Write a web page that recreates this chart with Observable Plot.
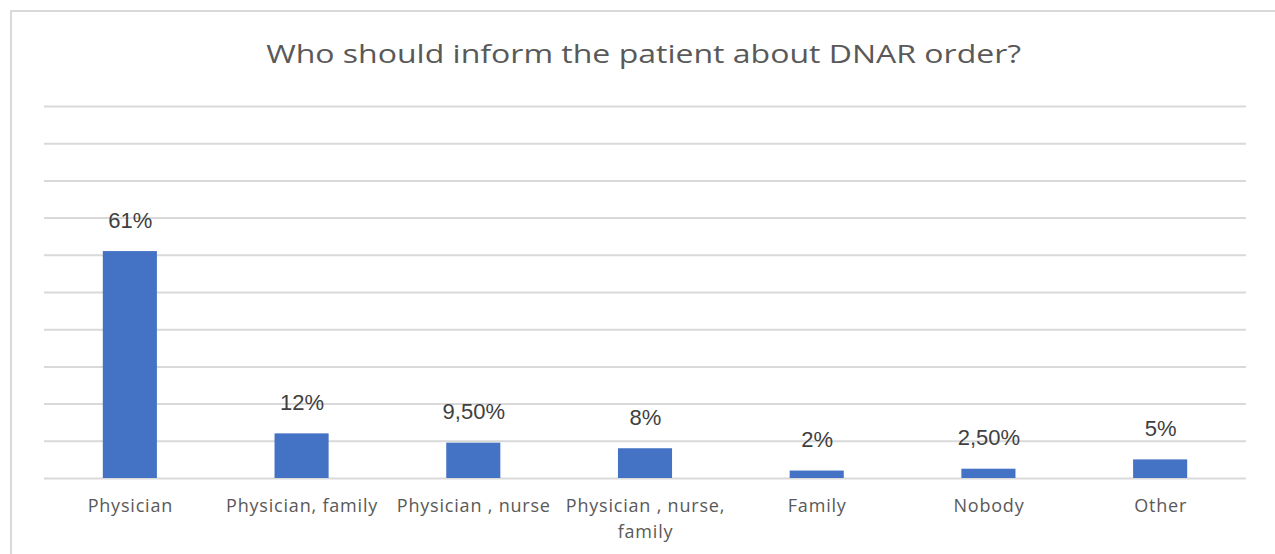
<!DOCTYPE html>
<html>
<head>
<meta charset="utf-8">
<script src="https://cdn.jsdelivr.net/npm/d3@7"></script>
<script src="https://cdn.jsdelivr.net/npm/@observablehq/plot@0.6"></script>
<style>
  html, body { margin: 0; padding: 0; background: #fff; width: 1275px; height: 554px; overflow: hidden; }
  #frame { position: absolute; left: 10px; top: 10px; width: 1280px; height: 560px; border-left: 2px solid #d9d9d9; border-top: 2px solid #d9d9d9; box-sizing: border-box; }
  #title { position: absolute; left: 0; top: 0; width: 1287px; height: 90px; text-align: center; font-family: "Open Sans", sans-serif; font-size: 25px; color: #595959; line-height: 106px; transform: scaleX(1.28); transform-origin: 643px 0; }
  #chart { position: absolute; left: 0; top: 90px; }
</style>
</head>
<body>
<div id="frame"></div>
<div id="title">Who should inform the patient about DNAR order?</div>
<div id="chart"></div>
<script>
const categories = ["Physician", "Physician, family", "Physician , nurse", "Physician , nurse,\nfamily", "Family", "Nobody", "Other"];
const values = [61, 12, 9.5, 8, 2, 2.5, 5];
const valueLabels = ["61%", "12%", "9,50%", "8%", "2%", "2,50%", "5%"];
const yTicks = [0, 10, 20, 30, 40, 50, 60, 70, 80, 90, 100];

const data = categories.map((c, i) => ({cat: c, value: values[i], label: valueLabels[i]}));

const chart = Plot.plot({
  width: 1275,
  height: 464,
  marginTop: 16,
  marginBottom: 76,
  marginLeft: 44,
  marginRight: 29,
  style: {background: "transparent", overflow: "visible"},
  x: {domain: categories, paddingInner: 0.685, paddingOuter: 0.3425, round: false, label: null, axis: null},
  y: {domain: [0, 100], label: null, axis: null},
  marks: [
    Plot.ruleY(yTicks, {stroke: "#d9d9d9", strokeWidth: 2}),
    Plot.barY(data, {x: "cat", y: "value", fill: "#4472c4"}),
    Plot.text(data, {x: "cat", y: "value", text: "label", dy: -31, fontSize: 22, fill: "#404040", fontFamily: "Liberation Sans, Arial, sans-serif"}),
    Plot.axisX({tickSize: 0, tickPadding: 16, fontSize: 18, fill: "#595959", lineAnchor: "top", lineHeight: 1.4, fontFamily: "Open Sans, sans-serif", label: null, textOverflow: null, lineWidth: 30})
  ]
});
chart.querySelectorAll("g[aria-label='x-axis tick label'] text").forEach(t => t.style.letterSpacing = "0.8px");
document.getElementById("chart").appendChild(chart);
</script>
</body>
</html>
